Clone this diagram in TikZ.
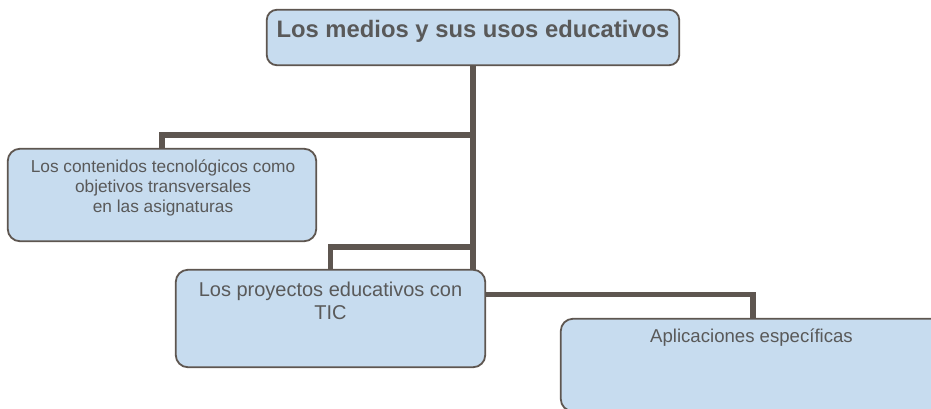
\documentclass[tikz,border=0pt]{standalone}
\usepackage{fontspec}
\setmainfont{Liberation Sans}
\definecolor{linec}{HTML}{5E5650}
\definecolor{boxfill}{HTML}{C7DCEF}
\definecolor{txt}{HTML}{595959}
\begin{document}
\begin{tikzpicture}[x=1pt,y=-1pt,
  box/.style={draw=linec, line width=1.8pt, fill=boxfill, rounded corners=12pt, inner sep=0pt},
  conn/.style={draw=linec, line width=5.5pt, line join=miter},
  lbl/.style={text=txt, inner sep=0pt, anchor=base}]
\useasboundingbox (0,0) rectangle (931,409);
\clip (0,0) rectangle (931,409);
% junction coordinates
\coordinate (j1) at (473,135);
\coordinate (j2) at (473,247);
\coordinate (j3) at (473,294.5);
% boxes (positions only, drawn later)
\path (473,37.5) node[minimum width=412pt, minimum height=55pt, inner sep=0pt] (root) {};
\path (162,195) node[minimum width=308pt, minimum height=92pt, inner sep=0pt] (b1) {};
\path (330.5,318.5) node[minimum width=309pt, minimum height=97pt, inner sep=0pt] (b2) {};
\path (753,365) node[minimum width=384pt, minimum height=92pt, inner sep=0pt] (b3) {};
% connectors
\draw[conn] (root.south) -- (j1) -| (b1.north);
\draw[conn] (root.south) -- (j2) -| (b2.north);
\draw[conn] (root.south) -- (j3) -| (b3.north);
% boxes drawn
\draw[box, rounded corners=10pt] (root.south west) rectangle (root.north east);
\draw[box] (b1.south west) rectangle (b1.north east);
\draw[box] (b2.south west) rectangle (b2.north east);
\draw[box] (b3.south west) rectangle (b3.north east);
% texts
\node[lbl, font=\fontsize{23.8}{28}\selectfont\bfseries] (t0) at (473,37.3) {Los medios y sus usos educativos};
\node[lbl, font=\fontsize{17.3}{20}\selectfont] (t1a) at (163,172.7) {Los contenidos tecnológicos como};
\node[lbl, font=\fontsize{17.3}{20}\selectfont] (t1b) at (163,192.7) {objetivos transversales};
\node[lbl, font=\fontsize{17.3}{20}\selectfont] (t1c) at (163,212.7) {en las asignaturas};
\node[lbl, font=\fontsize{20}{23}\selectfont] (t2a) at (330.5,296.7) {Los proyectos educativos con};
\node[lbl, font=\fontsize{20}{23}\selectfont] (t2b) at (330.5,319) {TIC};
\node[lbl, font=\fontsize{18.6}{22}\selectfont] (t3) at (751.5,342.7) {Aplicaciones específicas};
\end{tikzpicture}
\end{document}
